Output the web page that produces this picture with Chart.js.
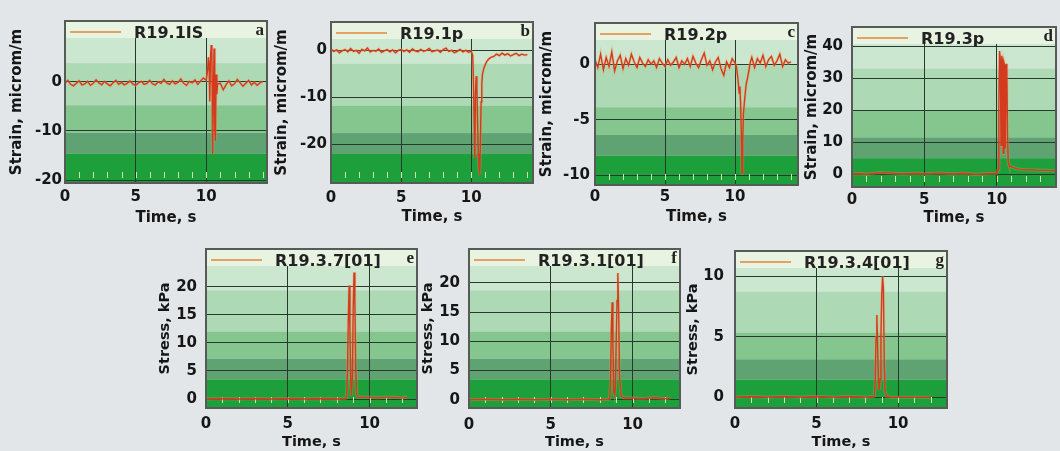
<!DOCTYPE html>
<html>
<head>
<meta charset="utf-8">
<script src="https://cdn.jsdelivr.net/npm/chart.js@4.4.0/dist/chart.umd.min.js"></script>
<style>
  html, body { margin: 0; padding: 0; background: #e2e6e9; }
  #wrap { position: relative; width: 1060px; height: 451px; overflow: hidden; }
  #wrap canvas { position: absolute; }
</style>
</head>
<body>
<div id="wrap"></div>
<script>
// ---- data ----
const xTicks = [0, 5, 10]
const yTicksA = [-20, -10, 0]
const yTicksB = [-20, -10, 0]
const yTicksC = [-10, -5, 0]
const yTicksD = [0, 10, 20, 30, 40]
const yTicksE = [0, 5, 10, 15, 20]
const yTicksF = [0, 5, 10, 15, 20]
const yTicksG = [0, 5, 10]

const strainTitle = "Strain, microm/m"
const stressTitle = "Stress, kPa"
const timeTitle = "Time, s"

// a: R19.1IS
const tA = [0,0.2,0.4,0.6,0.8,1,1.2,1.4,1.6,1.8,2,2.2,2.4,2.6,2.8,3,3.2,3.4,3.6,3.8,4,4.2,4.4,4.6,4.8,5,5.2,5.4,5.6,5.8,6,6.2,6.4,6.6,6.8,7,7.2,7.4,7.6,7.8,8,8.2,8.4,8.6,8.8,9,9.2,9.4,9.6,9.8,10,
  10.1,10.15,10.2,10.25,10.3,10.35,10.4,10.45,10.5,10.55,10.6,10.65,10.7,10.75,10.8,
  11,11.2,11.4,11.6,11.8,12,12.2,12.4,12.6,12.8,13,13.2,13.4,13.6,13.8,14]
const sA = [-0.2,0.3,-0.5,-0.8,-0.3,0.2,-0.6,-0.4,0.1,-0.7,
  -0.3,0.4,-0.2,-0.6,0.1,-0.4,-0.8,-0.2,0.3,-0.5,
  -0.1,-0.6,-0.3,0.2,-0.4,-0.7,-0.2,0.1,-0.5,-0.3,
  0.3,-0.4,-0.6,0.0,-0.3,0.5,-0.2,-0.5,0.2,-0.4,
  -0.1,0.6,-0.3,-0.7,0.1,-0.2,0.4,-0.5,0.2,0.8,0.3,
  2.5,5.0,3.5,-4.0,4.8,7.5,6.0,-14.8,-3.0,6.8,-9.5,-12.0,1.5,-2.5,-0.4,
  -0.3,-1.6,-0.6,0.2,-0.8,-0.4,0.5,-0.2,-0.9,-0.3,0.3,-0.6,-0.1,-0.7,-0.2,0.1]

// b: R19.1p
const tB = [0,0.2,0.4,0.6,0.8,1,1.2,1.4,1.6,1.8,2,2.2,2.4,2.6,2.8,3,3.2,3.4,3.6,3.8,4,4.2,4.4,4.6,4.8,5,5.2,5.4,5.6,5.8,6,6.2,6.4,6.6,6.8,7,7.2,7.4,7.6,7.8,8,8.2,8.4,8.6,8.8,9,9.2,9.4,9.6,9.8,10,
  10.1,10.15,10.2,10.25,10.3,10.35,10.4,10.45,10.5,10.55,10.6,10.65,10.7,10.75,10.8,
  10.9,11,11.1,11.2,11.3,11.4,
  11.6,11.8,12,12.2,12.4,12.6,12.8,13,13.2,13.4,13.6,13.8,14]
const sB = [0.3,-0.2,0.1,-0.5,-0.1,0.2,-0.3,0.4,-0.2,0.0,
  -0.6,0.2,-0.1,0.5,-0.3,0.0,-0.2,0.3,-0.4,-0.1,
  0.2,-0.3,0.1,-0.5,0.0,0.2,-0.2,0.1,-0.4,0.3,
  -0.1,-0.3,0.2,-0.2,0.0,0.4,-0.3,-0.1,0.1,-0.4,
  0.2,0.5,-0.2,0.0,-0.5,-0.2,0.2,-0.3,0.0,-0.4,-0.2,
  -1.0,-6.0,-14.0,-23.0,-9.0,-5.5,-8.0,-16.0,-22.0,-25.0,-26.5,-20.0,-11.0,-7.0,-5.0,
  -3.8,-3.0,-2.4,-2.0,-1.7,-1.5,
  -1.3,-0.8,-1.1,-0.6,-1.0,-0.7,-1.2,-0.9,-0.6,-1.1,-0.8,-1.0,-0.9]

// c: R19.2p
const tC = [0,0.2,0.4,0.6,0.8,1,1.2,1.4,1.6,1.8,2,2.2,2.4,2.6,2.8,3,3.2,3.4,3.6,3.8,4,4.2,4.4,4.6,4.8,5,5.2,5.4,5.6,5.8,6,6.2,6.4,6.6,6.8,7,7.2,7.4,7.6,7.8,8,8.2,8.4,8.6,8.8,9,9.2,9.4,9.6,9.8,10,
  10.1,10.2,10.3,10.35,10.4,10.45,10.5,10.55,10.6,10.7,10.8,10.9,11,11.1,
  11.2,11.4,11.6,11.8,12,12.2,12.4,12.6,12.8,13,13.2,13.4,13.6,13.8,14]
const sC = [0.4,-0.3,0.9,-0.5,0.6,-0.2,1.1,-0.6,0.3,0.8,
  -0.4,0.5,-0.1,0.9,0.2,-0.3,0.6,0.1,-0.2,0.4,
  0.0,0.3,-0.3,0.5,0.1,-0.2,0.4,-0.1,0.2,0.6,
  -0.3,0.3,0.0,0.5,-0.2,0.7,0.1,-0.3,0.4,1.0,
  -0.1,0.3,-0.5,0.2,0.6,-0.4,-1.0,0.2,-0.3,0.5,0.1,
  -0.2,-1.2,-2.6,-2.0,-3.5,-6.0,-9.8,-7.0,-4.5,-3.0,-1.8,-1.2,-0.5,0.2,
  0.6,-0.3,0.5,0.1,0.8,-0.2,0.4,0.7,-0.1,0.3,0.9,-0.2,0.4,0.1,0.2]

// d: R19.3p
const tD = [0,0.5,1,1.5,2,2.5,3,3.5,4,4.5,5,5.5,6,6.5,7,7.5,8,8.5,9,9.5,10,
  10.1,10.15,10.2,10.25,10.3,10.35,10.4,10.45,10.5,10.55,10.6,10.65,10.7,10.75,10.8,10.85,10.9,
  11,11.2,11.5,12,12.5,13,13.5,14]
const sD = [0.1,0.2,0.0,0.3,0.5,0.4,0.2,0.1,0.2,0.3,0.1,0.2,0.4,0.2,0.1,0.3,0.2,0.0,0.1,0.2,0.3,
  1.5,22,38.5,36,9,37,35.5,6.5,35,34,8,34.5,33,12,3.5,2.8,2.6,
  2.4,2.0,1.6,1.4,1.3,1.2,1.2,1.1]

// e: R19.3.7[01]
const tE = [0,1,2,3,4,5,6,7,8,8.5,
  8.6,8.65,8.7,8.75,8.8,8.85,8.9,8.95,9,9.05,9.1,9.15,9.2,
  9.3,9.5,10,10.5,11,11.5,12,12.3]
const sE = [0,0.1,0,0.1,0,0.1,0,0.1,0,0.1,
  0.2,5,14,20.2,12,3,0.6,4,16,22.5,18,6,0.8,
  0.3,0.3,0.3,0.2,0.3,0.3,0.2,0.3]

// f: R19.3.1[01]
const tF = [0,1,2,3,4,5,6,7,8,8.5,
  8.6,8.65,8.7,8.75,8.8,8.85,8.9,8.95,9,9.05,9.1,9.15,9.2,
  9.3,9.4,9.5,10,10.5,11,11.5,12,12.3]
const sF = [0,0.1,0,0.1,0,0.1,0,0.1,0,0.1,
  0.2,3,12,16.7,9,1.5,0.8,2,10,17,21.7,15,4,
  0.8,0.4,0.3,0.3,0.2,0.3,0.3,0.2,0.3]

// g: R19.3.4[01]
const tG = [0,1,2,3,4,5,6,7,8,8.5,
  8.55,8.6,8.65,8.7,8.75,8.8,8.85,8.9,8.95,9,9.05,9.1,9.15,9.2,
  9.3,9.5,10,10.5,11,11.5,12]
const sG = [0,0.05,0,0.05,0,0.05,0,0.05,0,0.05,
  0.1,1.5,5,6.8,4,1.2,0.6,1.5,5,8.5,10,9,3,0.5,
  0.05,0,0,0,0,0,0]

// ---- panel layout (plot box in page pixels) ----
const panels = [
  {letter:"a", name:"R19.1IS", t:tA, v:sA, yTicks:yTicksA, yTitle:strainTitle,
   L:65, T:13, R:267, B:183, xMax:14.3, yMin:-20.6, yMax:12.4, yw:57, xh:44, yPad:3, xPad:5, tSize:15},
  {letter:"b", name:"R19.1p", t:tB, v:sB, yTicks:yTicksB, yTitle:strainTitle,
   L:331, T:13, R:533, B:183, xMax:14.4, yMin:-28.3, yMax:6.06, yw:58, xh:43, yPad:4, xPad:6, tSize:15},
  {letter:"c", name:"R19.2p", t:tC, v:sC, yTicks:yTicksC, yTitle:strainTitle,
   L:595, T:13, R:798, B:185, xMax:14.5, yMin:-10.85, yMax:3.7, yw:57, xh:41, yPad:5, xPad:3, tSize:15},
  {letter:"d", name:"R19.3p", t:tD, v:sD, yTicks:yTicksD, yTitle:strainTitle,
   L:852, T:13, R:1056, B:187, xMax:14.1, yMin:-4, yMax:46, yw:49, xh:40, yPad:9, xPad:4, tSize:15},
  {letter:"e", name:"R19.3.7[01]", t:tE, v:sE, yTicks:yTicksE, yTitle:stressTitle,
   L:206, T:235, R:417, B:408, xMax:12.9, yMin:-1.6, yMax:26.7, yw:49, xh:43, yPad:9, xPad:7, tSize:14.5},
  {letter:"f", name:"R19.3.1[01]", t:tF, v:sF, yTicks:yTicksF, yTitle:stressTitle,
   L:469, T:235, R:680, B:408, xMax:12.9, yMin:-1.4, yMax:25.8, yw:49, xh:43, yPad:9, xPad:8, tSize:14.5},
  {letter:"g", name:"R19.3.4[01]", t:tG, v:sG, yTicks:yTicksG, yTitle:stressTitle,
   L:735, T:235, R:947, B:408, xMax:13.0, yMin:-0.9, yMax:12.1, yw:50, xh:43, yPad:11, xPad:7, tSize:14.5}
]

const bandStops = [0.08, 0.26, 0.52, 0.69, 0.82, 1]
const bandColors = ["#e3f1e1", "#cbe7cf", "#aed9b5", "#85c68e", "#5fa372", "#1d9f3c"]
const ink = "#161616"
const fontFam = '"DejaVu Sans", Verdana, sans-serif'

Chart.defaults.font.family = fontFam

// green bands, minor ticks, frame, legend and corner letter
const panelDecor = {
  id: "panelDecor",
  beforeDraw(chart) {
    const ctx = chart.ctx, a = chart.chartArea
    ctx.save()
    let top = a.top
    bandStops.forEach((f, i) => {
      const y = a.top + f * a.height
      ctx.fillStyle = bandColors[i]
      ctx.fillRect(a.left, top, a.width, y - top)
      top = y
    })
    ctx.restore()
  },
  beforeDatasetsDraw(chart) {
    const ctx = chart.ctx, a = chart.chartArea, xs = chart.scales.x
    ctx.save()
    ctx.strokeStyle = "#cdeaa8"
    ctx.lineWidth = 1
    for (let s = 1; s < xs.max; s++) {
      const px = Math.round(xs.getPixelForValue(s)) + 0.5
      ctx.beginPath()
      ctx.moveTo(px, a.bottom - 11)
      ctx.lineTo(px, a.bottom - 5)
      ctx.stroke()
    }
    // pale strip behind the legend
    ctx.fillStyle = "#e8f3e2"
    ctx.fillRect(a.left, a.top, a.width, 17)
    ctx.restore()
  },
  afterDatasetsDraw(chart, args, opts) {
    const ctx = chart.ctx, a = chart.chartArea
    ctx.save()
    // legend sample + name
    ctx.strokeStyle = "#e0a363"
    ctx.lineWidth = 2
    ctx.beginPath()
    ctx.moveTo(a.left + 5, a.top + 11)
    ctx.lineTo(a.left + 56, a.top + 11)
    ctx.stroke()
    ctx.fillStyle = "#222"
    ctx.font = "bold 16px " + fontFam
    ctx.textBaseline = "middle"
    ctx.textAlign = "left"
    ctx.fillText(chart.data.datasets[0].label, a.left + 69, a.top + 12.5)
    ctx.font = 'bold 17px "Liberation Serif", serif'
    ctx.textAlign = "right"
    ctx.fillText(opts.letter, a.right - 3, a.top + 10)
    // frame
    ctx.strokeStyle = "#575b58"
    ctx.lineWidth = 2
    ctx.strokeRect(a.left, a.top, a.width, a.height)
    ctx.restore()
  }
}

function drawPanel(p) {
  const cv = document.createElement("canvas")
  const left = p.L - p.yw, top = p.T - 4
  const w = p.R + 4 - left, h = p.B + p.xh - top
  cv.width = w
  cv.height = h
  cv.style.left = left + "px"
  cv.style.top = top + "px"
  cv.style.width = w + "px"
  cv.style.height = h + "px"
  document.getElementById("wrap").appendChild(cv)

  const pts = p.t.map((t, i) => ({x: t, y: p.v[i]}))
  const tickFont = {size: 15, weight: "bold"}
  const titleFont = {size: p.tSize, weight: "bold"}
  const grid = {color: "#27382c", lineWidth: 1, drawTicks: false, z: -1}

  new Chart(cv, {
    type: "line",
    data: {
      datasets: [
        {label: p.name, data: pts, borderColor: "#d43a1e", borderWidth: 1.4, pointRadius: 0, tension: 0},
        {label: p.name, data: pts, borderColor: "rgba(240,160,90,0.35)", borderWidth: 3, pointRadius: 0, tension: 0}
      ]
    },
    options: {
      responsive: false,
      animation: false,
      devicePixelRatio: 1,
      layout: {autoPadding: false, padding: {top: 4, right: 4, left: 0, bottom: 0}},
      plugins: {
        legend: {display: false},
        tooltip: {enabled: false},
        panelDecor: {letter: p.letter}
      },
      scales: {
        x: {
          type: "linear", min: 0, max: p.xMax,
          afterBuildTicks: s => { s.ticks = xTicks.map(v => ({value: v})) },
          afterFit: s => { s.height = p.xh },
          ticks: {font: tickFont, color: ink, padding: p.xPad, maxRotation: 0},
          grid: grid,
          border: {display: false},
          title: {display: true, text: timeTitle, font: titleFont, color: ink, padding: 0}
        },
        y: {
          type: "linear", min: p.yMin, max: p.yMax,
          afterBuildTicks: s => { s.ticks = p.yTicks.map(v => ({value: v})) },
          afterFit: s => { s.width = p.yw },
          ticks: {font: tickFont, color: ink, padding: p.yPad},
          grid: grid,
          border: {display: false},
          title: {display: true, text: p.yTitle, font: titleFont, color: ink, padding: 0}
        }
      }
    },
    plugins: [panelDecor]
  })
}

panels.forEach(drawPanel)
</script>
</body>
</html>
